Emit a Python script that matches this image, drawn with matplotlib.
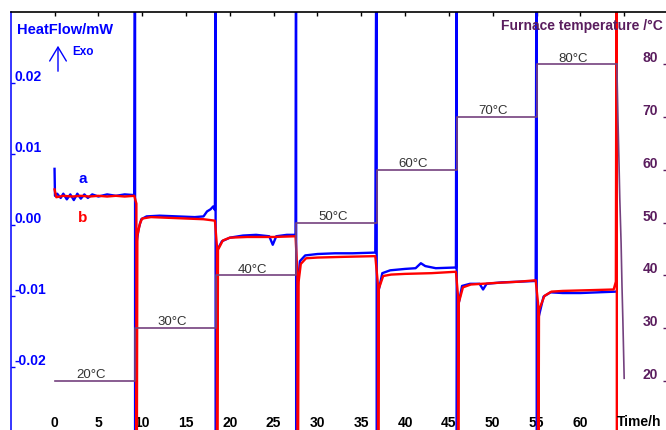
import matplotlib
matplotlib.use("Agg")
import matplotlib.pyplot as plt
from matplotlib.transforms import blended_transform_factory

plt.rcParams['font.family'] = ['Liberation Sans', 'DejaVu Sans']

# heat flow, sample a (blue), hours / mW
a_time = [0.00, 0.05, 0.3, 0.7, 1.0, 1.4, 1.8, 2.2, 2.6, 3.0, 3.4, 3.8, 4.3, 5.0, 6.0, 7.0, 8.0, 9.1,
          9.19, 9.19, 9.30, 9.6, 9.9, 10.5, 12.0, 14.0, 16.0, 17.0, 17.4, 17.8, 18.1, 18.3,
          18.38, 18.38, 18.5, 19.1, 20.0, 21.5, 23.0, 24.5, 24.9, 25.3, 26.5, 27.5,
          27.57, 27.57, 27.7, 28.0, 28.6, 30.0, 32.0, 34.0, 36.6,
          36.76, 36.76, 36.85, 37.4, 38.3, 40.0, 41.2, 41.8, 42.3, 43.5, 45.8,
          45.89, 45.89, 45.95, 46.5, 47.4, 48.5, 48.9, 49.3, 51.0, 53.0, 54.9,
          55.02, 55.02, 55.2, 55.8, 56.6, 58.0, 60.0, 62.0, 64.1]
a_flow = [0.0079, 0.0041, 0.0044, 0.0038, 0.0044, 0.0036, 0.0043, 0.0035, 0.0044, 0.0037, 0.0043, 0.0038,
          0.0043, 0.0040, 0.0043, 0.0041, 0.0043, 0.0042,
          0.06, -0.06, -0.0030, -0.0005, 0.0008, 0.0012, 0.0013, 0.0012, 0.0011, 0.0012, 0.0019, 0.0022, 0.0026, 0.0021,
          0.06, -0.06, -0.0037, -0.0023, -0.0018, -0.0015, -0.0014, -0.0016, -0.0028, -0.0016, -0.0014, -0.0014,
          0.06, -0.06, -0.0094, -0.0051, -0.0043, -0.0041, -0.0040, -0.0040, -0.0039,
          0.06, -0.06, -0.0100, -0.0068, -0.0064, -0.0062, -0.0061, -0.0054, -0.0058, -0.0061, -0.0060,
          0.06, -0.06, -0.0121, -0.0086, -0.0083, -0.0083, -0.0091, -0.0083, -0.0081, -0.0080, -0.0079,
          0.06, -0.06, -0.0132, -0.0101, -0.0095, -0.0096, -0.0096, -0.0095, -0.0094]

# heat flow, sample b (red)
b_time = [0.0, 0.2, 1.0, 2.0, 3.0, 4.0, 5.0, 6.0, 7.0, 8.0, 9.1,
          9.34, 9.34, 9.45, 9.75, 10.0, 11.0, 13.0, 15.0, 17.0, 18.3,
          18.53, 18.53, 18.65, 19.2, 20.0, 22.0, 25.0, 27.5,
          27.72, 27.72, 27.85, 28.1, 28.7, 30.0, 33.0, 36.6,
          36.91, 36.91, 37.0, 37.5, 38.4, 40.0, 43.0, 45.8,
          46.04, 46.04, 46.12, 46.6, 47.5, 50.0, 53.0, 54.9,
          55.17, 55.17, 55.28, 55.9, 56.7, 58.0, 61.0, 63.8, 64.05, 64.16, 64.16]
b_flow = [0.0050, 0.0039, 0.0041, 0.0040, 0.0041, 0.0040, 0.0041, 0.0040, 0.0041, 0.0040, 0.0041,
          0.0030, -0.06, -0.0015, 0.0002, 0.0009, 0.0011, 0.0010, 0.0009, 0.0008, 0.0006,
          -0.0030, -0.06, -0.0035, -0.0022, -0.0018, -0.0017, -0.0017, -0.0016,
          -0.0070, -0.06, -0.0080, -0.0055, -0.0047, -0.0046, -0.0045, -0.0044,
          -0.0085, -0.06, -0.0090, -0.0072, -0.0070, -0.0069, -0.0068, -0.0066,
          -0.0100, -0.06, -0.0110, -0.0088, -0.0084, -0.0082, -0.0080, -0.0078,
          -0.0110, -0.06, -0.0120, -0.0100, -0.0094, -0.0093, -0.0092, -0.0091, -0.0080, 0.06, -0.06]

# furnace program
step_time = [0, 9.19, 18.38, 27.57, 36.76, 45.89, 55.02, 64.16]
step_temp = [20, 30, 40, 50, 60, 70, 80, 80]
cool_time = [64.16, 64.3, 64.4, 64.5, 64.65, 64.75, 64.85, 65.0]
cool_temp = [80, 69, 62, 54.5, 46, 38, 31.5, 20.5]

flow_ticks = [-0.02, -0.01, 0.0, 0.01, 0.02]
flow_labels = ['-0.02', '-0.01', '0.00', '0.01', '0.02']
temp_ticks = [20, 30, 40, 50, 60, 70, 80]
time_ticks = list(range(0, 70, 5))
time_labels = [str(t) for t in range(0, 65, 5)] + ['']

blue = '#0000ff'
red = '#ff0000'
purple = '#74417e'
purple_txt = '#5a1d5e'

fig = plt.figure(figsize=(6.66, 4.31), dpi=100)
ax = fig.add_axes([0.0161, 0.0, 0.9869, 0.9698])
ax2 = ax.twinx()

ax.plot(a_time, a_flow, color=blue, lw=1.7)
ax.plot(b_time, b_flow, color=red, lw=1.7)

ax2.plot(step_time, step_temp, color=purple, lw=1.2, drawstyle='steps-post')
ax2.plot(cool_time, cool_temp, color=purple, lw=1.2)
for i in range(len(step_time) - 1):
    mid = (step_time[i] + step_time[i + 1]) / 2 - 0.4
    ax2.annotate(f'{step_temp[i]}°C', (mid, step_temp[i]), xytext=(0, 0.5),
                 textcoords='offset points', ha='center', va='bottom',
                 fontsize=9.5, color='#333333')

ax.set_xlim(-5, 70)
ax.set_ylim(-0.0289, 0.0300)
ax2.set_ylim(10.7, 89.9)

for s in ['bottom', 'right']:
    ax.spines[s].set_visible(False)
ax.spines['left'].set_color(blue)
ax.spines['left'].set_linewidth(1.1)
ax.spines['top'].set_linewidth(1.2)
for s in ax2.spines.values():
    s.set_visible(False)

ax.set_xticks(time_ticks)
ax.set_xticklabels(time_labels, fontsize=10, fontweight='bold')
ax.tick_params(axis='x', top=True, bottom=False, labelbottom=True, direction='in',
               length=3, width=1, pad=-11)

ax.set_yticks(flow_ticks)
ax.set_yticklabels(flow_labels, fontsize=10, fontweight='bold', color=blue)
ax.tick_params(axis='y', direction='in', length=3, width=1, colors=blue, pad=-3)
for lab in ax.get_yticklabels():
    lab.set_ha('left')
    lab.set_va('bottom')

ax2.set_yticks(temp_ticks)
ax2.set_yticklabels([str(t) for t in temp_ticks], fontsize=10, fontweight='bold', color=purple_txt)
ax2.tick_params(axis='y', direction='in', length=3.6, width=1, colors=purple_txt, pad=-7)
for lab in ax2.get_yticklabels():
    lab.set_ha('right')
    lab.set_va('bottom')

tr = blended_transform_factory(ax.transData, ax.transAxes)
ax.text(66.7, 0.0215, 'Time/h', transform=tr, ha='center', va='center',
        fontsize=10, fontweight='bold')

ax.text(3.25, 0.0066, 'a', color=blue, fontsize=11, fontweight='bold', ha='center', va='center')
ax.text(3.25, 0.0011, 'b', color=red, fontsize=11, fontweight='bold', ha='center', va='center')

fig.text(17 / 666, 1 - 30 / 431, 'HeatFlow/mW', color=blue, fontsize=10.5,
         fontweight='bold', ha='left', va='center')
fig.text(72 / 666, 1 - 52 / 431, 'Exo', color=blue, fontsize=8.5,
         fontweight='bold', ha='left', va='center')
ax.annotate('', xy=(58 / 666, 1 - 44 / 431), xytext=(58 / 666, 1 - 75 / 431),
            xycoords='figure fraction', textcoords='figure fraction',
            arrowprops=dict(arrowstyle='->,head_length=0.5,head_width=0.3',
                            color=blue, lw=1, mutation_scale=20))
fig.text(0.9955, 1 - 26 / 431, 'Furnace temperature /°C', color=purple_txt,
         fontsize=10, fontweight='bold', ha='right', va='center')

fig.savefig('out.png', dpi=100)
